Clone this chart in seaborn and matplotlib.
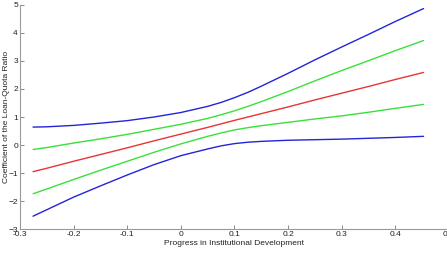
import numpy as np
import pandas as pd
import matplotlib; matplotlib.use("Agg")
import matplotlib.pyplot as plt
import seaborn as sns

sns.set_theme(style="white")
plt.rcParams["font.family"] = ["Liberation Sans", "DejaVu Sans"]

# progress in institutional development (x) and the five curves
progress = [-0.2756, -0.25, -0.2, -0.15, -0.1, -0.05, 0.0, 0.05, 0.075, 0.1,
            0.125, 0.15, 0.2, 0.25, 0.3, 0.35, 0.4, 0.4525]
coef = [-0.95, -0.83, -0.58, -0.34, -0.10, 0.15, 0.39, 0.63, 0.755, 0.88,
        1.00, 1.12, 1.36, 1.61, 1.85, 2.09, 2.34, 2.59]
inner_upper = [-0.16, -0.09, 0.07, 0.22, 0.38, 0.56, 0.74, 0.95, 1.08, 1.22,
               1.38, 1.55, 1.91, 2.29, 2.66, 3.01, 3.37, 3.73]
inner_lower = [-1.74, -1.57, -1.23, -0.90, -0.58, -0.26, 0.04, 0.31, 0.43, 0.54,
               0.62, 0.69, 0.81, 0.93, 1.04, 1.17, 1.31, 1.45]
outer_upper = [0.64, 0.65, 0.70, 0.78, 0.87, 1.00, 1.16, 1.38, 1.52, 1.69,
               1.88, 2.10, 2.56, 3.04, 3.50, 3.95, 4.41, 4.87]
outer_lower = [-2.54, -2.31, -1.86, -1.46, -1.07, -0.70, -0.38, -0.14, -0.03, 0.05,
               0.10, 0.13, 0.17, 0.19, 0.21, 0.24, 0.27, 0.31]

x_ticks = [-0.3, -0.2, -0.1, 0, 0.1, 0.2, 0.3, 0.4, 0.5]
x_tick_labels = ["-0.3", "-0.2", "-0.1", "0", "0.1", "0.2", "0.3", "0.4", "0.5"]
y_ticks = [-3, -2, -1, 0, 1, 2, 3, 4, 5]

series = {
    "outer_upper": outer_upper,
    "inner_upper": inner_upper,
    "coef": coef,
    "inner_lower": inner_lower,
    "outer_lower": outer_lower,
}
df = pd.concat(
    [pd.DataFrame({"x": progress, "y": v, "s": k}) for k, v in series.items()],
    ignore_index=True,
)
palette = {
    "outer_upper": "#2424d8", "outer_lower": "#2424d8",
    "inner_upper": "#3ae03a", "inner_lower": "#3ae03a",
    "coef": "#e83434",
}

fig = plt.figure(figsize=(4.47, 2.60), dpi=100)
ax = fig.add_axes([0.0447, 0.119, 0.9598, 0.862])
sns.lineplot(data=df, x="x", y="y", hue="s", palette=palette,
             linewidth=1.0, legend=False, ax=ax, sort=False)

ax.set_xlim(-0.3, 0.5)
ax.set_ylim(-3, 5)
ax.set_xticks(x_ticks)
ax.set_xticklabels(x_tick_labels)
ax.set_yticks(y_ticks)
ax.tick_params(direction="in", length=3, width=0.7, color="#8a8a8a",
               labelsize=6, labelcolor="#222222", pad=1.5, left=True, bottom=True)
ax.set_xlabel("Progress in Institutional Development", fontsize=6,
              color="#222222", labelpad=1)
ax.set_ylabel("Coefficient of the Loan-Quota Ratio", fontsize=6,
              color="#222222")
ax.yaxis.set_label_coords(-0.024, 0.5)
sns.despine(ax=ax)
for sp in ("left", "bottom"):
    ax.spines[sp].set_color("#9a9a9a")
    ax.spines[sp].set_linewidth(0.8)

fig.savefig("out.png", dpi=100)
plt.close()
